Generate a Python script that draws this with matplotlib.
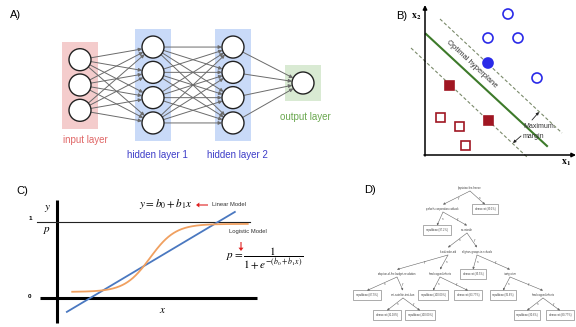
import numpy as np
import matplotlib.pyplot as plt
from matplotlib.patches import Circle, Rectangle

plt.rcParams['font.family'] = ['Liberation Sans', 'DejaVu Sans']
plt.rcParams['mathtext.fontset'] = 'stix'

# --- A) neural network ---
layer_names = ["input layer", "hidden layer 1", "hidden layer 2", "output layer"]
layer_sizes = [3, 4, 4, 1]
layer_colors = ["#f4cccc", "#c9daf8", "#c9daf8", "#d9ead3"]
label_colors = ["#e06666", "#3c3cc8", "#3c3cc8", "#6aa84f"]

# --- B) support vector machine ---
class1_open = [(508, 14), (488, 38), (518, 38), (537, 78)]
class1_support = [(488, 63)]
class2_open = [(440, 117), (459, 126), (465, 145)]
class2_support = [(449, 85), (488, 120)]

# --- C) linear vs logistic model ---
lin_b0, lin_b1 = -0.26, 0.595
log_low, log_high = 0.08, 0.975
log_mid, log_k = 1.224, 6.0

# --- D) decision tree (label, parent, branch, is_leaf) ---
tree_labels = ["physician-fee-freeze", "synfuels-corporation-cutback", "democrat (99.1%)",
               "republican (97.2%)", "mx-missile", "el-salvador-aid",
               "religious-groups-in-schools", "adoption-of-the-budget-resolution",
               "handicapped-infants", "democrat (95.5%)", "immigration",
               "republican (87.5%)", "anti-satellite-test-ban", "republican (100.00%)",
               "democrat (83.77%)", "republican (95.6%)", "handicapped-infants",
               "democrat (91.18%)", "republican (100.00%)", "republican (90.6%)",
               "democrat (80.77%)"]
tree_parents = [None, 0, 0, 1, 1, 4, 4, 5, 5, 6, 6, 7, 7, 8, 8, 10, 10, 12, 12, 16, 16]
tree_branch = [None, "y", "n", "n", "y", "n", "y", "y", "n", "n", "y",
               "n", "y", "n", "y", "n", "y", "n", "y", "n", "y"]
tree_leaf = [False, False, True, True, False, False, False, False, False, True, False,
             True, False, True, True, True, False, True, True, True, True]

fig = plt.figure(figsize=(5.76, 3.27), dpi=100)
ax = fig.add_axes([0, 0, 1, 1])
ax.set_xlim(0, 576)
ax.set_ylim(327, 0)
ax.axis('off')

# ---------------- A ----------------
ax.text(10, 15, "A)", fontsize=8, va='center')
layer_x = [80, 153, 233, 303]
node_r = 11
gap = 25.3
layer_nodes = []
for i, n in enumerate(layer_sizes):
    if n == 1:
        ys = [83]
    else:
        ys = [85 - gap * (n - 1) / 2 + gap * k for k in range(n)]
    layer_nodes.append([(layer_x[i], y) for y in ys])
    h = 87 if n == 3 else (112 if n == 4 else 36)
    ax.add_patch(Rectangle((layer_x[i] - 18, np.mean(ys) - h / 2), 36, h,
                           facecolor=layer_colors[i], edgecolor='none', zorder=0))

for a, b in zip(layer_nodes[:-1], layer_nodes[1:]):
    for p in a:
        for q in b:
            ax.annotate("", xy=q, xytext=p,
                        arrowprops=dict(arrowstyle='-|>', color='#6b6b6b', lw=0.7,
                                        mutation_scale=5, shrinkA=7.5, shrinkB=8),
                        zorder=1)
for nodes in layer_nodes:
    for (x, y) in nodes:
        ax.add_patch(Circle((x, y), node_r, facecolor='white', edgecolor='#222222',
                            lw=1.0, zorder=3))

ax.text(85, 140, layer_names[0], color=label_colors[0], fontsize=7, ha='center', va='center')
ax.text(157, 155, layer_names[1], color=label_colors[1], fontsize=7, ha='center', va='center')
ax.text(237, 155, layer_names[2], color=label_colors[2], fontsize=7, ha='center', va='center')
ax.text(305, 117, layer_names[3], color=label_colors[3], fontsize=7, ha='center', va='center')

# ---------------- B ----------------
ax.text(396, 16, "B)", fontsize=8, va='center')
ax.annotate("", xy=(425, 5), xytext=(425, 156),
            arrowprops=dict(arrowstyle='-|>', color='black', lw=1.1, mutation_scale=6,
                            shrinkA=0, shrinkB=0))
ax.annotate("", xy=(576, 155), xytext=(424, 155),
            arrowprops=dict(arrowstyle='-|>', color='black', lw=1.1, mutation_scale=6,
                            shrinkA=0, shrinkB=0))
ax.text(416, 17, r"$\mathbf{x_2}$", fontsize=7, ha='center', va='center')
ax.text(566, 163, r"$\mathbf{x_1}$", fontsize=7, ha='center', va='center')

ax.plot([426, 547], [34, 146], color='#3d7a2a', lw=1.5)
ax.plot([440, 562], [19, 133], color='#7a8a6a', lw=0.8, dashes=(3, 2))
ax.plot([411, 527], [48, 157], color='#7a8a6a', lw=0.8, dashes=(3, 2))

for (x, y) in class1_open:
    ax.add_patch(Circle((x, y), 5, facecolor='white', edgecolor='#2a2ae8', lw=1.2, zorder=3))
for (x, y) in class1_support:
    ax.add_patch(Circle((x, y), 5, facecolor='#2a2ae8', edgecolor='#2a2ae8', lw=1.2, zorder=3))
for (x, y) in class2_open:
    ax.add_patch(Rectangle((x - 4.5, y - 4.5), 9, 9, facecolor='white', edgecolor='#a01622',
                           lw=1.2, zorder=3))
for (x, y) in class2_support:
    ax.add_patch(Rectangle((x - 4.5, y - 4.5), 9, 9, facecolor='#a01622', edgecolor='#a01622',
                           lw=1.2, zorder=3))

ax.text(472, 64, "Optimal hyperplane", fontsize=5.5, rotation=-43, rotation_mode='anchor',
        ha='center', va='center', color='#333333')
ax.annotate("", xy=(539, 112), xytext=(532, 120),
            arrowprops=dict(arrowstyle='-|>', color='#222222', lw=0.6, mutation_scale=4,
                            shrinkA=0, shrinkB=0))
ax.annotate("", xy=(513, 143), xytext=(521, 136),
            arrowprops=dict(arrowstyle='-|>', color='#222222', lw=0.6, mutation_scale=4,
                            shrinkA=0, shrinkB=0))
ax.text(523, 126, "Maximum.", fontsize=5, ha='left', va='center', color='#333333')
ax.text(523, 136, "margin", fontsize=5, ha='left', va='center', color='#333333')

# ---------------- C ----------------
axc = fig.add_axes([0, 0, 300 / 576, 152 / 327])
axc.set_xlim(-57 / 76, 243 / 76)
axc.set_ylim((298 - 327) / 76, (298 - 175) / 76)
axc.axis('off')
axc.plot([0, 0], [-0.33, 1.29], color='black', lw=2.2, solid_capstyle='butt')
axc.plot([-0.22, 2.63], [0, 0], color='black', lw=2.2, solid_capstyle='butt')
axc.plot([-0.26, 2.54], [1, 1], color='#222222', lw=0.8)

xl = np.array([0.13, 2.34])
axc.plot(xl, lin_b0 + lin_b1 * xl, color='#4a78c0', lw=1.3)
xs = np.linspace(0.2, 2.51, 200)
axc.plot(xs, log_low + (log_high - log_low) / (1 + np.exp(-log_k * (xs - log_mid))),
         color='#f0a060', lw=1.3)

ax.text(22, 191, "C)", fontsize=8, ha='center', va='center')
ax.text(30, 219, "1", fontsize=4.5, ha='center', va='center', fontweight='bold')
ax.text(30, 297, "0", fontsize=4.5, ha='center', va='center', fontweight='bold')
ax.text(47, 209, r"$y$", fontsize=8, ha='center', va='center')
ax.text(47, 230, r"$p$", fontsize=8, ha='center', va='center')
ax.text(163, 310, r"$x$", fontsize=8, ha='center', va='center')
ax.text(166, 204, r"$y = b_0 + b_1x$", fontsize=8, ha='center', va='center')
ax.annotate("", xy=(196, 205), xytext=(208, 205),
            arrowprops=dict(arrowstyle='simple,head_width=0.9,head_length=0.6', color='#e02020',
                            lw=0, mutation_scale=4, shrinkA=0, shrinkB=0))
ax.text(212, 205, "Linear Model", fontsize=4.2, ha='left', va='center', color='#333333')
ax.text(248, 231, "Logistic Model", fontsize=4.2, ha='center', va='center', color='#333333')
ax.annotate("", xy=(241, 251), xytext=(241, 242),
            arrowprops=dict(arrowstyle='simple,head_width=0.9,head_length=0.6', color='#e02020',
                            lw=0, mutation_scale=4, shrinkA=0, shrinkB=0))
ax.text(265, 258, r"$p = \dfrac{1}{1 + e^{-(b_0 + b_1x)}}$", fontsize=8,
        ha='center', va='center')

# ---------------- D ----------------
ax.text(370, 190, "D)", fontsize=8, ha='center', va='center')
tree_xy = [(470, 188), (443, 209), (485, 209), (437, 230), (467, 230), (448, 252),
           (477, 252), (397, 274), (440, 274), (473, 274), (510, 274), (367, 295),
           (403, 295), (433, 295), (468, 295), (503, 295), (543, 295), (387, 315),
           (420, 315), (527, 315), (560, 315)]
for i, label in enumerate(tree_labels):
    x, y = tree_xy[i]
    bbox = None
    if tree_leaf[i]:
        bbox = dict(boxstyle='square,pad=1.0', facecolor='white', edgecolor='#8a8a8a', lw=0.5)
    ax.text(x, y, label, fontsize=1.9, ha='center', va='center', color='#444444', bbox=bbox)
    p = tree_parents[i]
    if p is not None:
        px, py = tree_xy[p]
        ax.annotate("", xy=(x, y - 4.5), xytext=(px, py + 3),
                    arrowprops=dict(arrowstyle='-|>', color='#666666', lw=0.4,
                                    mutation_scale=3, shrinkA=0, shrinkB=0))
        mx, my = (px + x) / 2, (py + 3 + y - 4.5) / 2
        ax.text(mx + 2.5, my, tree_branch[i], fontsize=1.9, ha='center', va='center',
                color='#555555')

fig.savefig("out.png", dpi=100)
